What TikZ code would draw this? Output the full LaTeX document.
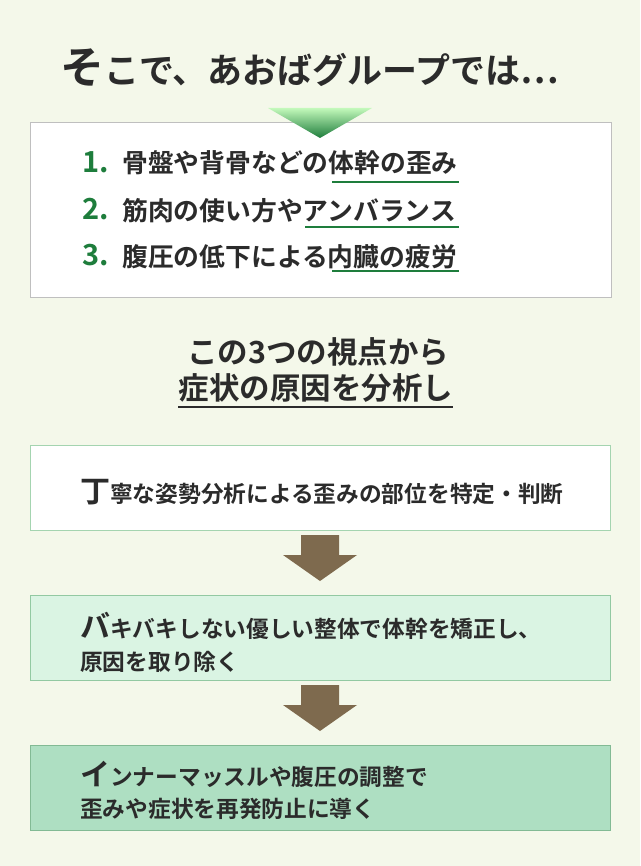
\documentclass[tikz,border=0pt]{standalone}
\usepackage{fontspec}
\setmainfont{Noto Sans CJK JP}[BoldFont={* Bold}]
\usetikzlibrary{shadings}
\definecolor{bg}{HTML}{F4F8EA}
\definecolor{gnum}{HTML}{1E7D3C}
\definecolor{brownar}{HTML}{7E6A4E}
\definecolor{txt}{HTML}{2B2B2B}
\definecolor{d2}{HTML}{A4D4B0}
\definecolor{f3}{HTML}{DAF4E3}\definecolor{d3}{HTML}{92C9A2}
\definecolor{f4}{HTML}{AEDFC2}\definecolor{d4}{HTML}{82BA94}
\begin{document}
\begin{tikzpicture}[x=1pt,y=-1pt,
  box/.style={draw=#1,line width=1pt},
  tx/.style={anchor=west,inner sep=0pt,text=txt,font=\bfseries\fontsize{22.7}{23}\selectfont},
  item/.style={anchor=west,inner sep=0pt,text=txt,font=\bfseries\fontsize{25.8}{26}\selectfont},
  num/.style={anchor=west,inner sep=0pt,text=gnum,font=\bfseries\fontsize{29}{29}\selectfont},
  uline/.style={draw=gnum,line width=2.2pt},
  arr/.style={fill=brownar,draw=none}]
\fill[bg] (0,0) rectangle (640,866);
\useasboundingbox (0,0) rectangle (640,866);
% title
\node[inner sep=0pt,anchor=base west,text=txt] (title) at (60,84) {\bfseries{\fontsize{44}{44}\selectfont そ}\fontsize{35}{35}\selectfont こで、あおばグループでは…};
% box 1
\node[box={black!25},fill=white,minimum width=581,minimum height=175,anchor=north west,inner sep=0pt] (b1) at (30,122) {};
\shade[top color={green!20!bg},bottom color={gnum}] (268,108) -- (372,108) -- (320,138) -- cycle;
\node[num] (n1) at (82,162) {1.};
\node[num] (n2) at (82,209) {2.};
\node[num] (n3) at (82,255) {3.};
\node[item] (i1) at (122,163) {骨盤や背骨などの体幹の歪み};
\node[item] (i2) at (122,211) {筋肉の使い方やアンバランス};
\node[item] (i3) at (122,257) {腹圧の低下による内臓の疲労};
\draw[uline] (332,182) -- (459,182);
\draw[uline] (305,227) -- (459,227);
\draw[uline] (332,271) -- (459,271);
% middle
\node[inner sep=0pt,text=txt,font=\bfseries\fontsize{30.5}{31}\selectfont] (m1) at (318,352) {この3つの視点から};
\node[inner sep=0pt,text=txt,font=\bfseries\fontsize{30.5}{31}\selectfont] (m2) at (316,388) {症状の原因を分析し};
\draw[line width=1.5pt,txt] (178,407) -- (453,407);
% box 2
\node[box=d2,fill=white,minimum width=580,minimum height=85,anchor=north west,inner sep=0pt] (b2) at (30,445) {};
\node[tx] (t2) at (80,492) {{\fontsize{30}{30}\selectfont 丁}寧な姿勢分析による歪みの部位を特定・判断};
\fill[arr] (301,535) -- (339,535) -- (339,555) -- (357,555) -- (320,581) -- (283,555) -- (301,555) -- cycle;
% box 3
\node[box=d3,fill=f3,minimum width=580,minimum height=85,anchor=north west,inner sep=0pt] (b3) at (30,595) {};
\node[tx] (t3a) at (80,626) {{\fontsize{30}{30}\selectfont バ}キバキしない優しい整体で体幹を矯正し、};
\node[tx] (t3b) at (80,662) {原因を取り除く};
\fill[arr] (301,685) -- (339,685) -- (339,705) -- (357,705) -- (320,731) -- (283,705) -- (301,705) -- cycle;
% box 4
\node[box=d4,fill=f4,minimum width=580,minimum height=85,anchor=north west,inner sep=0pt] (b4) at (30,745) {};
\node[tx] (t4a) at (80,774) {{\fontsize{30}{30}\selectfont イ}ンナーマッスルや腹圧の調整で};
\node[tx] (t4b) at (80,809) {歪みや症状を再発防止に導く};
\end{tikzpicture}
\end{document}
